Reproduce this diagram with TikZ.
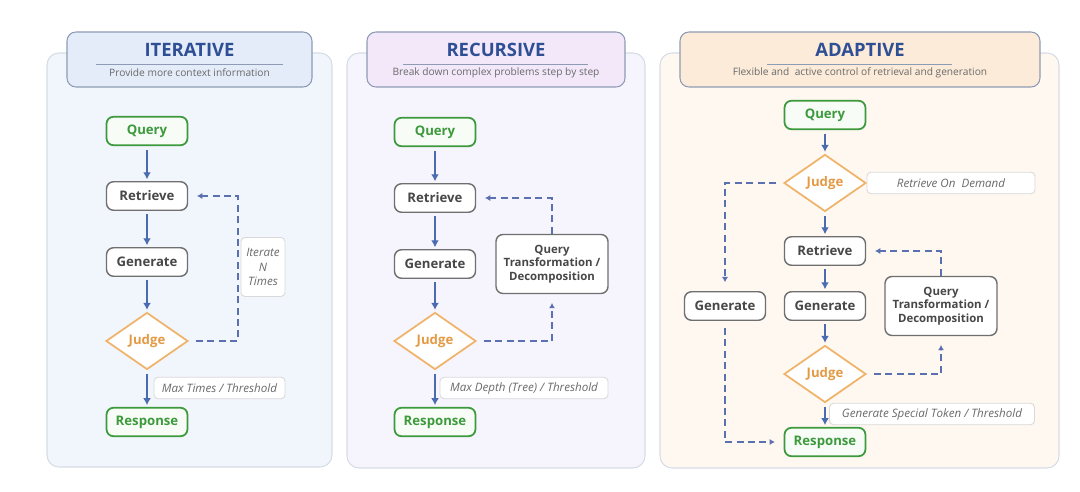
\documentclass[tikz,border=0pt]{standalone}
\usepackage{fontspec}
\setmainfont{Open Sans}
\usetikzlibrary{arrows.meta,shapes.geometric,positioning}

\definecolor{titleblue}{HTML}{2F4F95}
\definecolor{flowblue}{HTML}{4A6BB0}
\definecolor{dashblue}{HTML}{5A70B0}
\definecolor{okgreen}{HTML}{3C9A3C}
\definecolor{okfill}{HTML}{F8FCF7}
\definecolor{judgeline}{HTML}{EFB36A}
\definecolor{judgetext}{HTML}{E49A45}
\definecolor{boxline}{HTML}{6F6F6F}
\definecolor{boxtext}{HTML}{474747}
\definecolor{notetext}{HTML}{6A6A6A}
\definecolor{noteline}{HTML}{D9D9D9}
\definecolor{iterbg}{HTML}{F1F5FC}
\definecolor{iterhead}{HTML}{E3ECF8}
\definecolor{recbg}{HTML}{F6F5FD}
\definecolor{rechead}{HTML}{F2E8FA}
\definecolor{adabg}{HTML}{FEF8F0}
\definecolor{adahead}{HTML}{FCEBD8}
\definecolor{panelline}{HTML}{D6DCE6}
\definecolor{headline}{HTML}{8E9BB4}

\tikzset{
  panel/.style={draw=panelline, line width=0.6pt, rounded corners=0.24cm},
  head/.style={draw=headline, line width=0.6pt, rounded corners=0.18cm},
  title/.style={font=\fontsize{10.5}{12}\selectfont\bfseries, text=titleblue},
  subtitle/.style={font=\fontsize{5.8}{7}\selectfont, text=notetext},
  stepbox/.style={draw=boxline, fill=white, line width=0.8pt, rounded corners=0.14cm,
    minimum width=1.62cm, minimum height=0.57cm, inner sep=1pt,
    font=\fontsize{7.5}{9}\selectfont\bfseries, text=boxtext},
  endbox/.style={stepbox, draw=okgreen, fill=okfill, text=okgreen, line width=1pt},
  judgebox/.style={diamond, draw=judgeline, fill=white, line width=1pt,
    minimum width=1.64cm, minimum height=1.14cm, inner sep=0pt,
    font=\fontsize{7.5}{9}\selectfont\bfseries, text=judgetext},
  transbox/.style={stepbox, align=center, minimum width=2.24cm, minimum height=1.18cm,
    font=\fontsize{6.5}{7.6}\selectfont\bfseries},
  note/.style={draw=noteline, fill=white, line width=0.5pt, rounded corners=0.08cm,
    inner sep=1pt, minimum height=0.43cm,
    font=\fontsize{6.6}{8.4}\selectfont\itshape, text=notetext},
  flow/.style={draw=flowblue, line width=1.3pt, -{Latex[length=4pt,width=4.5pt]},
    shorten <=2pt, shorten >=1pt},
  dashflow/.style={draw=dashblue, line width=0.9pt, dash pattern=on 4pt off 2.5pt,
    -{Latex[length=3pt,width=3.5pt]}, shorten <=4pt, shorten >=5pt}
}

\begin{document}
\begin{tikzpicture}[x=0.02cm, y=-0.02cm]
  \useasboundingbox (0,0) rectangle (1080,492);

  % 1. Panels and headers
  \draw[panel, fill=iterbg] (47,53) rectangle (332,467);
  \draw[head, fill=iterhead] (67,32) rectangle (312,87);
  \draw[panel, fill=recbg] (347,53) rectangle (645,468);
  \draw[head, fill=rechead] (367,32) rectangle (625,87);
  \draw[panel, fill=adabg] (660,53) rectangle (1059,468);
  \draw[head, fill=adahead] (680,32) rectangle (1040,87);

  \node[title] (t1) at (189.5,50) {ITERATIVE};
  \node[subtitle] (s1) at (189.5,73) {Provide more context information};
  \draw[headline, line width=0.5pt] (96,64) -- (283,64);
  \node[title] (t2) at (496,50) {RECURSIVE};
  \node[subtitle] (s2) at (496,73) {Break down complex problems step by step};
  \draw[headline, line width=0.5pt] (403,64) -- (588,64);
  \node[title] (t3) at (860,50) {ADAPTIVE};
  \node[subtitle] (s3) at (860,73) {Flexible and\ \ active control of retrieval and generation};
  \draw[headline, line width=0.5pt] (767,64) -- (952,64);

  % 2. Iterative
  \node[endbox] (q1) at (147,131) {Query};
  \node[stepbox] (r1) at (147,196) {Retrieve};
  \node[stepbox] (g1) at (147,262) {Generate};
  \node[judgebox] (j1) at (147,341) {Judge};
  \node[endbox] (a1) at (147,422) {Response};
  \node[note, align=center, minimum width=0.88cm, minimum height=1.18cm] (n1a) at (263,267) {Iterate\\N\\Times};
  \node[note, minimum width=2.62cm] (n1b) at (219.5,388) {Max Times / Threshold};
  \coordinate (loop1) at (238,196);

  \draw[flow] (q1) -- (r1);
  \draw[flow] (r1) -- (g1);
  \draw[flow] (g1) -- (j1);
  \draw[flow] (j1) -- (a1);
  \draw[dashflow] (j1.east) -| (loop1) -- (r1.east);

  % 3. Recursive
  \node[endbox] (q2) at (435,132) {Query};
  \node[stepbox] (r2) at (435,198) {Retrieve};
  \node[stepbox] (g2) at (435,264) {Generate};
  \node[judgebox] (j2) at (435,341) {Judge};
  \node[endbox] (a2) at (435,422) {Response};
  \node[transbox] (x2) at (552,264) {Query\\Transformation /\\Decomposition};
  \node[note, minimum width=3.36cm] (n2) at (524,388) {Max Depth (Tree) / Threshold};
  \coordinate (loop2) at (552,198);

  \draw[flow] (q2) -- (r2);
  \draw[flow] (r2) -- (g2);
  \draw[flow] (g2) -- (j2);
  \draw[flow] (j2) -- (a2);
  \draw[dashflow] (j2.east) -| (x2.south);
  \draw[dashflow, shorten <=0pt] (x2.north) -- (loop2) -- (r2.east);

  % 4. Adaptive
  \node[endbox] (q3) at (825,115) {Query};
  \node[judgebox] (j3) at (825,183) {Judge};
  \node[note, minimum width=3.36cm] (n3a) at (951,183) {Retrieve On\ \ Demand};
  \node[stepbox] (r3) at (825,251) {Retrieve};
  \node[stepbox] (g3) at (825,306) {Generate};
  \node[stepbox] (g4) at (725,306) {Generate};
  \node[transbox] (x3) at (941,306) {Query\\Transformation /\\Decomposition};
  \node[judgebox] (j4) at (825,374) {Judge};
  \node[note, minimum width=4.1cm] (n3b) at (932,414) {Generate Special Token / Threshold};
  \node[endbox] (a3) at (825,442) {Response};
  \coordinate (loop3) at (941,251);
  \coordinate (side3) at (725,442);

  \draw[flow] (q3) -- (j3);
  \draw[flow] (j3) -- (r3);
  \draw[flow] (r3) -- (g3);
  \draw[flow] (g3) -- (j4);
  \draw[flow] (j4) -- (a3);
  \draw[dashflow] (j3.west) -| (g4.north);
  \draw[dashflow] (g4.south) -- (side3) -- (a3.west);
  \draw[dashflow] (j4.east) -| (x3.south);
  \draw[dashflow, shorten <=0pt] (x3.north) -- (loop3) -- (r3.east);

\end{tikzpicture}
\end{document}
